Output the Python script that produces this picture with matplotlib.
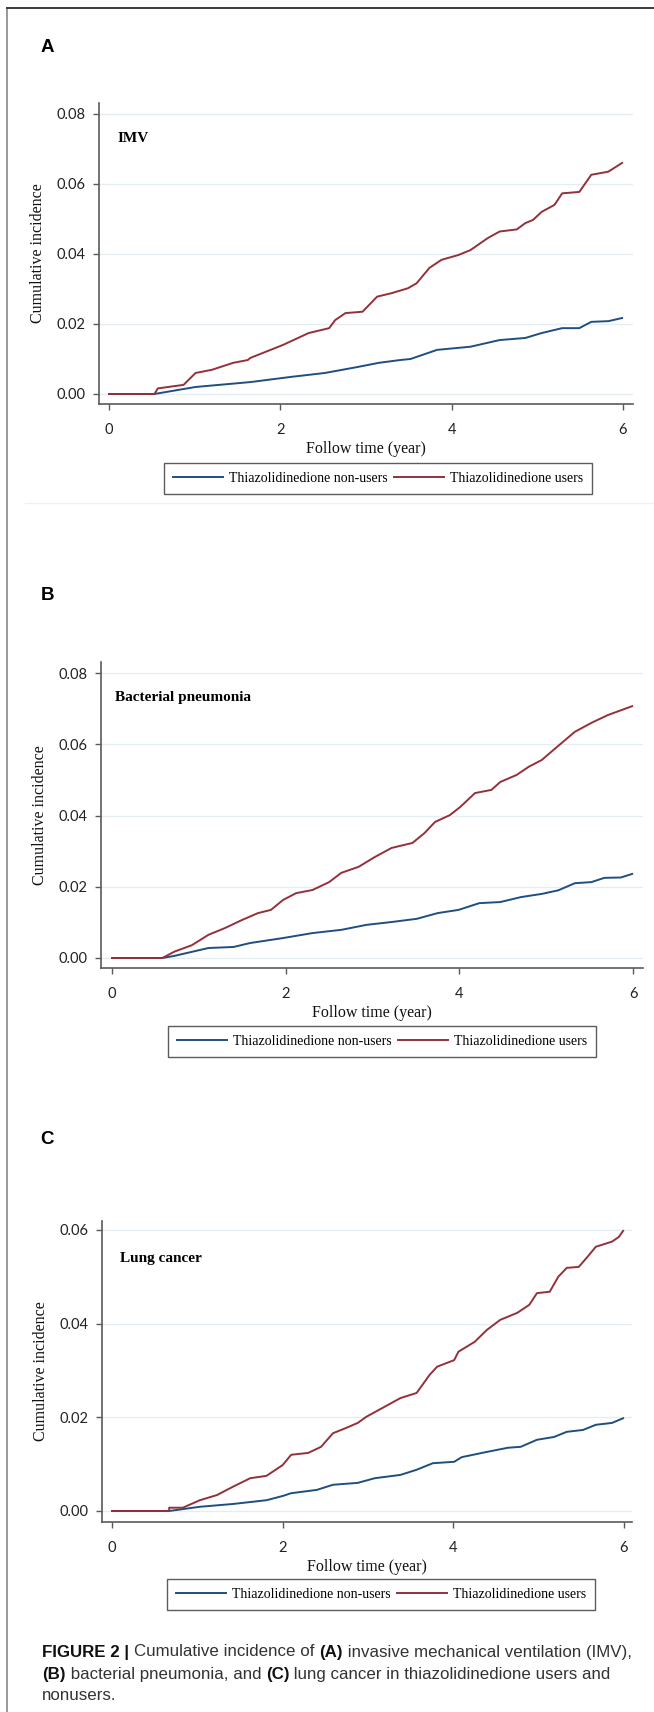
"""Cumulative incidence curves (IMV, bacterial pneumonia, lung cancer) for thiazolidinedione users vs non-users."""
import matplotlib.pyplot as plt
from matplotlib.lines import Line2D

W, H = 654, 1712

# --- data (years, cumulative incidence) ---
imv_t_users = [0, 0.53, 0.57, 0.87, 1.01, 1.2, 1.45, 1.62, 1.65, 2.03, 2.33, 2.57, 2.64, 2.76, 2.96, 3.13,
               3.3, 3.49, 3.59, 3.74, 3.88, 4.08, 4.22, 4.42, 4.56, 4.76, 4.86, 4.95, 5.05, 5.2, 5.29,
               5.49, 5.63, 5.83, 5.99]
imv_users = [0, 0, 0.0016, 0.0026, 0.006, 0.0069, 0.0089, 0.0097, 0.0103, 0.014, 0.0174, 0.0188, 0.0211,
             0.0231, 0.0235, 0.0278, 0.0288, 0.0302, 0.0316, 0.036, 0.0383, 0.0397, 0.0411, 0.0445,
             0.0464, 0.047, 0.0488, 0.0497, 0.052, 0.054, 0.0573, 0.0577, 0.0626, 0.0635, 0.066]
imv_t_non = [0, 0.53, 1.01, 1.65, 2.13, 2.52, 2.9, 3.15, 3.4, 3.52, 3.83, 4.22, 4.56, 4.86, 5.05, 5.29,
             5.49, 5.63, 5.83, 5.99]
imv_non = [0, 0, 0.002, 0.0034, 0.0049, 0.006, 0.0077, 0.0089, 0.0097, 0.01, 0.0126, 0.0135, 0.0154,
           0.016, 0.0174, 0.0188, 0.0188, 0.0206, 0.0208, 0.0217]

pneu_t_users = [0, 0.58, 0.72, 0.92, 1.11, 1.3, 1.5, 1.68, 1.83, 1.97, 2.12, 2.31, 2.5, 2.64, 2.84, 3.03,
                3.22, 3.46, 3.6, 3.72, 3.89, 4.01, 4.18, 4.37, 4.47, 4.66, 4.8, 4.95, 5.04, 5.18, 5.33,
                5.52, 5.71, 5.99]
pneu_users = [0, 0, 0.0018, 0.0036, 0.0065, 0.0084, 0.0107, 0.0126, 0.0135, 0.0163, 0.0182, 0.0191,
              0.0213, 0.0239, 0.0256, 0.0284, 0.0309, 0.0323, 0.0351, 0.0382, 0.0401, 0.0424, 0.0463,
              0.0472, 0.0494, 0.0514, 0.0537, 0.0556, 0.0575, 0.0604, 0.0635, 0.066, 0.0682, 0.0707]
pneu_t_non = [0, 0.58, 0.72, 1.11, 1.4, 1.59, 1.97, 2.31, 2.64, 2.93, 3.22, 3.51, 3.75, 3.99, 4.23, 4.47,
              4.71, 4.95, 5.14, 5.33, 5.52, 5.67, 5.86, 5.99]
pneu_non = [0, 0, 0.0006, 0.0028, 0.0031, 0.0042, 0.0056, 0.007, 0.0079, 0.0093, 0.0101, 0.011, 0.0126,
            0.0135, 0.0154, 0.0157, 0.0171, 0.018, 0.019, 0.021, 0.0213, 0.0225, 0.0226, 0.0236]

lung_t_users = [0, 0.67, 0.67, 0.83, 1.03, 1.23, 1.42, 1.62, 1.81, 2.0, 2.1, 2.3, 2.45, 2.59, 2.74, 2.88,
                2.98, 3.13, 3.38, 3.57, 3.72, 3.81, 4.01, 4.06, 4.25, 4.39, 4.55, 4.75, 4.89, 4.98, 5.13,
                5.23, 5.33, 5.47, 5.57, 5.67, 5.86, 5.94, 5.99]
lung_users = [0, 0, 0.0007, 0.0007, 0.0023, 0.0034, 0.0052, 0.007, 0.0075, 0.0098, 0.012, 0.0124, 0.0137,
              0.0166, 0.0177, 0.0188, 0.0201, 0.0216, 0.0241, 0.0252, 0.029, 0.0308, 0.0322, 0.034,
              0.0361, 0.0386, 0.0408, 0.0423, 0.044, 0.0465, 0.0468, 0.05, 0.0519, 0.0521, 0.0542,
              0.0564, 0.0575, 0.0585, 0.0598]
lung_t_non = [0, 0.67, 1.03, 1.42, 1.81, 2.0, 2.1, 2.4, 2.59, 2.88, 3.08, 3.38, 3.57, 3.76, 4.01, 4.1,
              4.39, 4.64, 4.79, 4.98, 5.18, 5.33, 5.52, 5.67, 5.86, 5.99]
lung_non = [0, 0, 0.0009, 0.0015, 0.0023, 0.0032, 0.0038, 0.0045, 0.0056, 0.006, 0.007, 0.0077, 0.0088,
            0.0102, 0.0105, 0.0115, 0.0126, 0.0135, 0.0137, 0.0152, 0.0158, 0.0169, 0.0173, 0.0184,
            0.0188, 0.0198]

x_ticks = [0, 2, 4, 6]
legend_labels = ["Thiazolidinedione non-users", "Thiazolidinedione users"]

BLUE = "#1f4f80"
RED = "#94303a"
SPINE = "#5a5a5a"
GRID = "#e4eef2"

panels = [
    dict(letter="A", title="IMV", t_non=imv_t_non, non=imv_non, t_users=imv_t_users, users=imv_users,
         yticks=[0, 0.02, 0.04, 0.06, 0.08], box=(99, 633, 103, 404), xlim=(-0.117, 6.117),
         ylim=(-0.00286, 0.0831), letter_y=48, title_xy=(0.105, 0.0731), leg=(378, 463)),
    dict(letter="B", title="Bacterial pneumonia", t_non=pneu_t_non, non=pneu_non, t_users=pneu_t_users,
         users=pneu_users, yticks=[0, 0.02, 0.04, 0.06, 0.08], box=(101, 643, 662, 968),
         xlim=(-0.127, 6.115), ylim=(-0.00281, 0.0831), letter_y=595, title_xy=(0.035, 0.073),
         leg=(382, 1026)),
    dict(letter="C", title="Lung cancer", t_non=lung_t_non, non=lung_non, t_users=lung_t_users,
         users=lung_users, yticks=[0, 0.02, 0.04, 0.06], box=(102, 632, 1221, 1522), xlim=(-0.117, 6.094),
         ylim=(-0.00235, 0.0619), letter_y=1140, title_xy=(0.094, 0.0538), leg=(381, 1579)),
]

fig = plt.figure(figsize=(W / 100, H / 100), dpi=100)

for p in panels:
    l, r, t, b = p["box"]
    ax = fig.add_axes([l / W, 1 - b / H, (r - l) / W, (b - t) / H])
    ax.plot(p["t_non"], p["non"], color=BLUE, lw=1.4, label=legend_labels[0])
    ax.plot(p["t_users"], p["users"], color=RED, lw=1.4, label=legend_labels[1])
    ax.set_xlim(*p["xlim"])
    ax.set_ylim(*p["ylim"])
    ax.set_xticks(x_ticks)
    ax.set_yticks(p["yticks"])
    ax.set_yticklabels([f"{v:.2f}" for v in p["yticks"]])
    for v in p["yticks"]:
        ax.axhline(v, color=GRID, lw=1.0, zorder=0)
    for s in ("top", "right"):
        ax.spines[s].set_visible(False)
    for s in ("left", "bottom"):
        ax.spines[s].set_color(SPINE)
        ax.spines[s].set_linewidth(1.2)
    ax.tick_params(axis="both", colors=SPINE, length=4.5, width=1.0, labelcolor="#222222")
    ax.tick_params(axis="y", pad=5)
    ax.tick_params(axis="x", pad=9)
    for lab in ax.get_xticklabels() + ax.get_yticklabels():
        lab.set_fontfamily("Lato")
        lab.set_fontsize(10.5)
    ax.set_xlabel("Follow time (year)", family="Liberation Serif", fontsize=11.5, labelpad=3,
                  color="#111111")
    ax.set_ylabel("Cumulative incidence", family="Liberation Serif", fontsize=11.5, labelpad=8,
                  color="#111111")
    ax.text(*p["title_xy"], p["title"], family="Liberation Serif", fontweight="bold", fontsize=11,
            va="center", ha="left")
    cx, top = p["leg"]
    leg = ax.legend(loc="upper center", bbox_to_anchor=(cx / W, 1 - top / H), bbox_transform=fig.transFigure,
                    ncol=2, frameon=True, fancybox=False, prop={"family": "Liberation Serif", "size": 10},
                    handlelength=3.6, handletextpad=0.4, columnspacing=0.5, borderpad=0.65,
                    borderaxespad=0)
    leg.get_frame().set_edgecolor("#333333")
    leg.get_frame().set_linewidth(1.0)
    fig.text(47 / W, 1 - p["letter_y"] / H, p["letter"], family="Liberation Sans", fontweight="bold",
             fontsize=13.5, ha="center", va="center")

# separator under panel A and the page frame
fig.add_artist(Line2D([25 / W, 1], [1 - 503 / H] * 2, color="#f0f0f0", lw=1))
fig.add_artist(Line2D([7 / W, 7 / W], [0, 1 - 8 / H], color="#888888", lw=1.2))
fig.add_artist(Line2D([7 / W, 1], [1 - 8 / H] * 2, color="#3a3a3a", lw=1.4))

# caption with bold fragments
caption = [
    [("FIGURE 2 | ", True), ("Cumulative incidence of ", False), ("(A)", True),
     (" invasive mechanical ventilation (IMV),", False)],
    [("(B)", True), (" bacterial pneumonia, and ", False), ("(C)", True),
     (" lung cancer in thiazolidinedione users and", False)],
    [("nonusers.", False)],
]
renderer = fig.canvas.get_renderer()
for i, line in enumerate(caption):
    x = 42 / W
    y = 1 - (1652 + 22 * i) / H
    for text, bold in line:
        t = fig.text(x, y, text, family="Liberation Sans", fontsize=12.2, va="center", ha="left",
                     fontweight="bold" if bold else "normal", color="#111111" if bold else "#333333")
        x += t.get_window_extent(renderer=renderer).width / W

fig.savefig("out.png", dpi=100)
